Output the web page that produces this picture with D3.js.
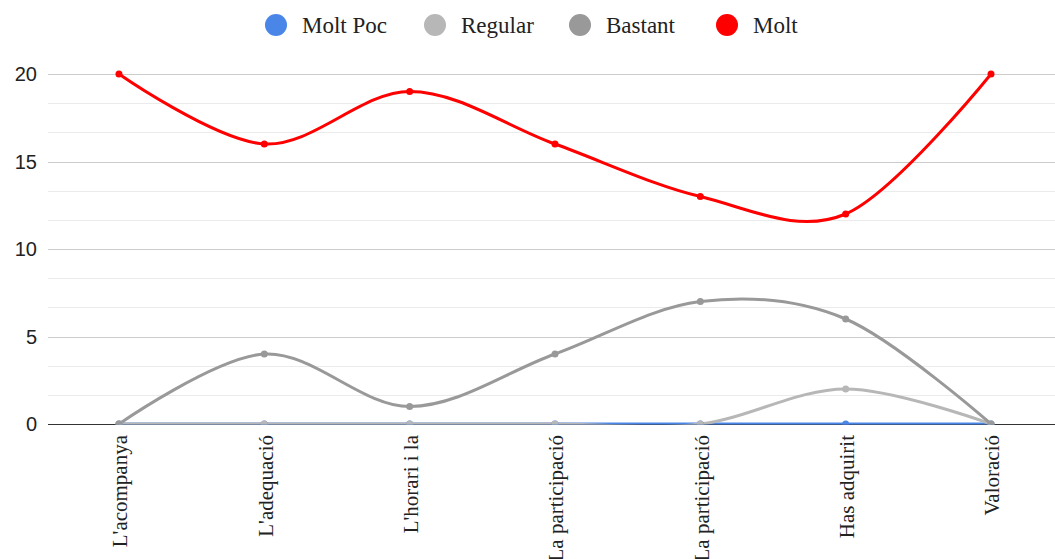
<!DOCTYPE html>
<html>
<head>
<meta charset="utf-8">
<script src="https://cdn.jsdelivr.net/npm/d3@7"></script>
<style>
  body { margin: 0; background: #fff; }
  svg { display: block; }
</style>
</head>
<body>
<svg width="1055" height="559"></svg>
<script>
var categories = ["L'acompanya", "L'adequació", "L'horari i la", "La participació", "La participació", "Has adquirit", "Valoració"];
var seriesNames = ["Molt Poc", "Regular", "Bastant", "Molt"];
var seriesColors = ["#4a86e8", "#b7b7b7", "#999999", "#ff0000"];
var moltPoc = [0, 0, 0, 0, 0, 0, 0];
var regular = [0, 0, 0, 0, 0, 2, 0];
var bastant = [0, 4, 1, 4, 7, 6, 0];
var molt = [20, 16, 19, 16, 13, 12, 20];
var yTicks = [0, 5, 10, 15, 20];

var series = [moltPoc, regular, bastant, molt];

var svg = d3.select('svg');
var plotLeft = 48, plotRight = 1055, plotTop = 74, plotBottom = 424;

var x = d3.scalePoint()
  .domain(d3.range(categories.length))
  .range([46.3, 1063.7])
  .padding(0.5);

var y = d3.scaleLinear()
  .domain([0, 20])
  .range([plotBottom, plotTop]);

// minor gridlines, two between each major tick
var minor = [];
yTicks.slice(0, -1).forEach(function (t) {
  minor.push(t + 5 / 3, t + 10 / 3);
});

svg.append('g').selectAll('line')
  .data(minor)
  .enter().append('line')
  .attr('x1', plotLeft).attr('x2', plotRight)
  .attr('y1', function (d) { return Math.round(y(d)) + 0.5; })
  .attr('y2', function (d) { return Math.round(y(d)) + 0.5; })
  .style('stroke', '#ebebeb');

svg.append('g').selectAll('line')
  .data(yTicks.slice(1))
  .enter().append('line')
  .attr('x1', plotLeft).attr('x2', plotRight)
  .attr('y1', function (d) { return Math.round(y(d)) + 0.5; })
  .attr('y2', function (d) { return Math.round(y(d)) + 0.5; })
  .style('stroke', '#cccccc');

// baseline
svg.append('line')
  .attr('x1', plotLeft).attr('x2', plotRight)
  .attr('y1', y(0) + 0.5).attr('y2', y(0) + 0.5)
  .style('stroke', '#333');

// y labels
svg.append('g').selectAll('text')
  .data(yTicks)
  .enter().append('text')
  .attr('x', 37)
  .attr('y', function (d) { return y(d); })
  .attr('dy', '0.36em')
  .attr('text-anchor', 'end')
  .style('font-family', '"Liberation Sans", Arial, sans-serif')
  .style('font-size', '20px')
  .style('fill', '#222')
  .text(function (d) { return d; });

// x labels, rotated
svg.append('g').selectAll('text')
  .data(categories)
  .enter().append('text')
  .attr('transform', function (d, i) {
    return 'translate(' + (x(i) + 1) + ',435) rotate(-90)';
  })
  .attr('dy', '0.35em')
  .attr('text-anchor', 'end')
  .style('font-family', '"Liberation Serif", "Times New Roman", serif')
  .style('font-size', '21px')
  .style('fill', '#222')
  .text(function (d) { return d; });

// clip for series
svg.append('clipPath').attr('id', 'area')
  .append('rect')
  .attr('x', plotLeft).attr('y', 60)
  .attr('width', plotRight - plotLeft).attr('height', plotBottom + 0.5 - 60);

var line = d3.line()
  .x(function (d, i) { return x(i); })
  .y(function (d) { return y(d); })
  .curve(d3.curveCardinal.tension(0));

var plot = svg.append('g').attr('clip-path', 'url(#area)');

series.forEach(function (s, k) {
  plot.append('path')
    .datum(s)
    .attr('d', line)
    .style('fill', 'none')
    .style('stroke', seriesColors[k])
    .style('stroke-width', 3);
});

series.forEach(function (s, k) {
  plot.append('g').selectAll('circle')
    .data(s)
    .enter().append('circle')
    .attr('cx', function (d, i) { return x(i); })
    .attr('cy', function (d) { return y(d); })
    .attr('r', 3.5)
    .style('fill', seriesColors[k]);
});

// legend
var legendX = [276, 435, 580, 727];
var legend = svg.append('g').selectAll('g')
  .data(seriesNames)
  .enter().append('g')
  .attr('transform', function (d, i) { return 'translate(' + legendX[i] + ',25)'; });

legend.append('circle')
  .attr('r', 11)
  .style('fill', function (d, i) { return seriesColors[i]; });

legend.append('text')
  .attr('x', 26)
  .attr('dy', '0.35em')
  .style('font-family', '"Liberation Serif", "Times New Roman", serif')
  .style('font-size', '23px')
  .style('fill', '#222')
  .text(function (d) { return d; });
</script>
</body>
</html>
